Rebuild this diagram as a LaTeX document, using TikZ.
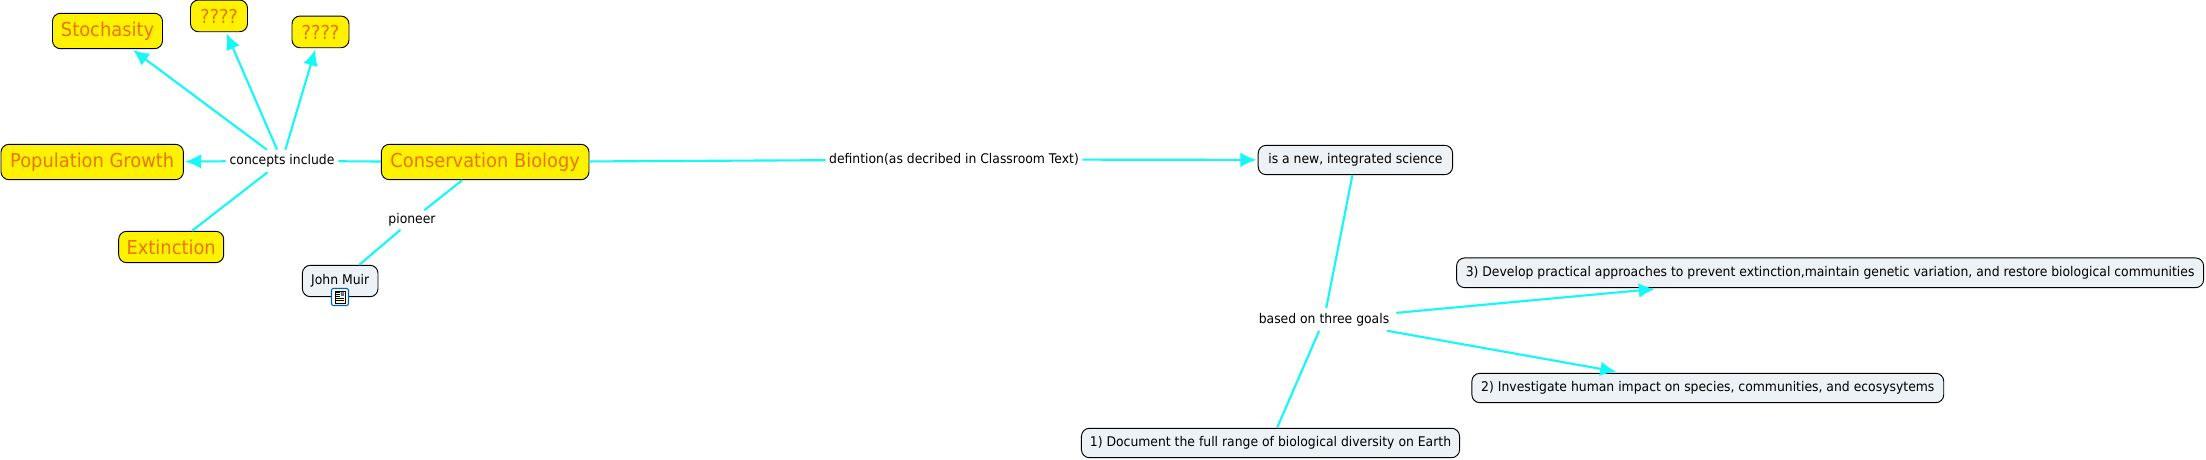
\documentclass[tikz,border=0pt]{standalone}
\usepackage{fontspec}
\setmainfont{DejaVu Sans}[FakeStretch=0.93]
\usetikzlibrary{arrows.meta}
\def\px{0.75pt}
\definecolor{linkc}{HTML}{14F8F8}
\definecolor{paleb}{HTML}{ECF2F6}
\definecolor{orangec}{HTML}{EC7400}
\tikzset{
  x=\px,y=-\px,
  concept/.style={rectangle,rounded corners=6pt,draw=black,line width=0.7pt,inner sep=0pt},
  hot/.style={concept,fill=yellow,text=orangec,font=\fontsize{14.4}{16}\selectfont},
  plain/.style={concept,fill=paleb,text=black,font=\fontsize{10}{12}\selectfont},
  phrase/.style={rectangle,inner sep=0pt,text=black,font=\fontsize{10}{12}\selectfont},
  link/.style={draw=linkc,line width=1.6pt},
  linkarrow/.style={link,-{Latex[length=12pt,width=11pt]},shorten >=1pt},
}
\begin{document}
\begin{tikzpicture}
\useasboundingbox (0,0) rectangle (2206,460);
\fill[white] (0,0) rectangle (2206,460);
% phrases
\node[phrase,minimum width=112*\px,minimum height=22*\px] (include) at (282,161) {concepts include};
\node[phrase,minimum width=52*\px,minimum height=19*\px] (pion) at (412,220) {pioneer};
\node[phrase,minimum width=256*\px,minimum height=22*\px] (defn) at (954,159.5) {defintion(as decribed in Classroom Text)};
\node[phrase,minimum width=144*\px,minimum height=22*\px] (based) at (1324,319.5) {based on three goals};
% concepts
\node[hot,minimum width=110*\px,minimum height=35.4*\px] (stoch) at (107.5,31) {Stochasity};
\node[hot,minimum width=57*\px,minimum height=31.7*\px] (qa) at (219,15.9) {????};
\node[hot,minimum width=57*\px,minimum height=31.7*\px] (qb) at (320.5,31.9) {????};
\node[hot,minimum width=182.4*\px,minimum height=35.4*\px] (popg) at (92.2,162) {Population Growth};
\node[hot,minimum width=207.6*\px,minimum height=35.4*\px] (cons) at (485.2,162) {Conservation Biology};
\node[hot,minimum width=105*\px,minimum height=31.4*\px] (ext) at (171.2,247) {Extinction};
\node[plain,minimum width=75.6*\px,minimum height=31.4*\px] (muir) at (340.2,281) {John Muir};
\node[plain,minimum width=194.4*\px,minimum height=29.4*\px] (sci) at (1355.4,160) {is a new, integrated science};
\node[plain,minimum width=747*\px,minimum height=29.7*\px] (g3) at (1830.1,272.8) {3) Develop practical approaches to prevent extinction,maintain genetic variation, and restore biological communities};
\node[plain,minimum width=471.9*\px,minimum height=29.4*\px] (g2) at (1707.8,388) {2) Investigate human impact on species, communities, and ecosysytems};
\node[plain,minimum width=378.1*\px,minimum height=29.4*\px] (g1) at (1270.5,443) {1) Document the full range of biological diversity on Earth};
% connectors
\path[link] (cons) -- (include);
\path[link] (ext) -- (include);
\path[linkarrow] (include) -- (popg);
\path[linkarrow] (include) -- (stoch);
\path[linkarrow] (include) -- (qa);
\path[linkarrow] (include) -- (qb);
\path[link] (cons) -- (pion);
\path[link] (pion) -- (muir);
\path[link] (cons) -- (defn);
\path[linkarrow] (defn) -- (sci);
\path[link] (sci) -- (based);
\path[link] (g1) -- (based);
\path[linkarrow,shorten >=7pt] (based) -- (g3);
\path[linkarrow,shorten >=5pt] (based) -- (g2);
% attachment icon on John Muir
\draw[rounded corners=1.5pt,draw=blue!45!cyan!70!black,fill=white,line width=0.8pt] (331.5,288.5) rectangle (348.5,305.5);
\fill[yellow!20] (335,291) rectangle (345,303);
\draw[black,line width=0.5pt] (335,291) rectangle (345,303);
\fill[blue!50!cyan] (340.5,292) rectangle (344,296);
\fill[orange!70!red] (342,292) rectangle (344,294);
\draw[black,line width=0.5pt] (336,292.5)--(339.5,292.5) (336,294.5)--(339.5,294.5) (336,296.5)--(339.5,296.5) (336,298.5)--(344,298.5) (336,300.5)--(344,300.5);
\end{tikzpicture}
\end{document}
